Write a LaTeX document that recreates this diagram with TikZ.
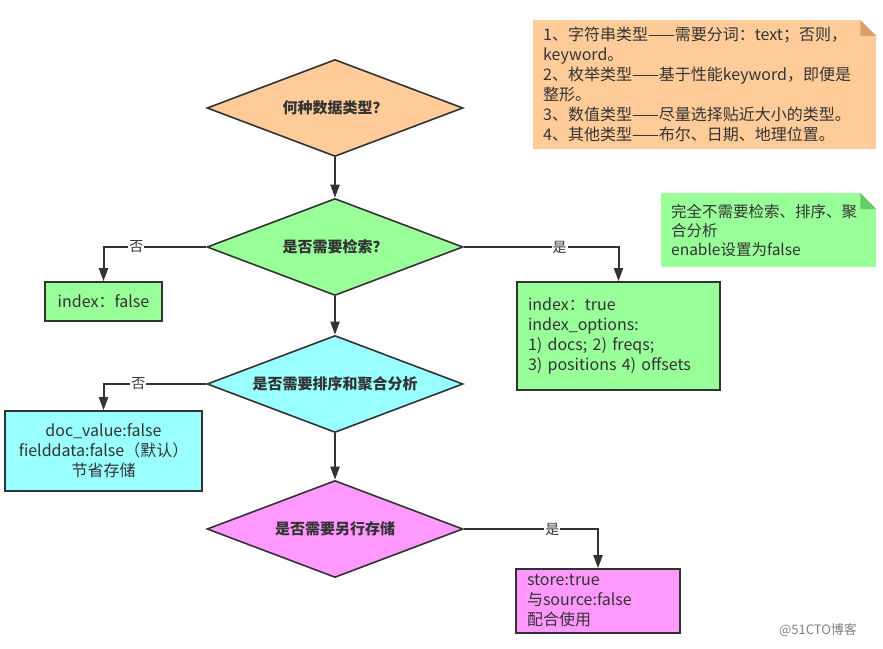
\documentclass[tikz,border=0pt]{standalone}
\usepackage{fontspec}
\setmainfont{Noto Sans CJK SC}
\usetikzlibrary{arrows.meta,shapes,positioning,calc}
\definecolor{lineGray}{HTML}{333333}
\definecolor{typeOrange}{HTML}{FFCC99}
\definecolor{foldOrange}{HTML}{D9A06B}
\definecolor{searchGreen}{HTML}{99FF99}
\definecolor{foldGreen}{HTML}{66CC66}
\definecolor{sortCyan}{HTML}{99FFFF}
\definecolor{storeMagenta}{HTML}{FF99FF}
\tikzset{
    flow/.style={-{Triangle[length=13pt, width=9pt]}, line width=2pt, lineGray},
    decision/.style={diamond, aspect=2.64, draw=lineGray, line width=1.6pt, text=lineGray, minimum width=256pt, minimum height=97pt, inner sep=0pt, font=\fontsize{15}{20}\selectfont\bfseries},
    result/.style={rectangle, draw=lineGray, line width=1.6pt, text=lineGray, inner xsep=11pt, font=\fontsize{16}{20}\selectfont},
    answer/.style={fill=white, text=lineGray, inner sep=1pt, font=\fontsize{14}{14}\selectfont},
    note/.style={rectangle, anchor=north west, inner xsep=10pt, text=lineGray, align=left, font=\fontsize{16}{20}\selectfont}
}
\begin{document}
\begin{tikzpicture}[x=1pt, y=-1pt]
    \useasboundingbox (0,0) rectangle (883,648);

    % Decisions
    \node[decision, fill=typeOrange] (type) at (335,108) {何种数据类型？};
    \node[decision, fill=searchGreen] (search) at (335,247) {是否需要检索？};
    \node[decision, fill=sortCyan] (sort) at (335,384) {是否需要排序和聚合分析};
    \node[decision, fill=storeMagenta] (store) at (335,529) {是否需要另行存储};

    % Results
    \node[result, fill=searchGreen, minimum width=117pt, minimum height=39pt] (noindex) at (103.5,301.5) {index：false};
    \node[result, fill=searchGreen, text width=181pt, minimum height=108pt, align=left] (index) at (618.5,336) {index：true\\index\_options:\\1) docs; 2) freqs;\\3) positions 4) offsets};
    \node[result, fill=sortCyan, minimum width=197pt, minimum height=80pt, align=center] (nodoc) at (103.5,451) {doc\_value:false\\fielddata:false（默认）\\节省存储};
    \node[result, fill=storeMagenta, text width=142pt, minimum height=64pt, align=left] (stored) at (598,601) {store:true\\与source:false\\配合使用};

    \draw[flow] (type) -- (search);
    \draw[flow] (search) -- (sort);
    \draw[flow] (sort) -- (store);
    \draw[flow] (search.west) -| node[answer, pos=0.34] {否} (noindex.north);
    \draw[flow] (search.east) -| node[answer, pos=0.31] {是} (index.north);
    \draw[flow] (sort.west) -| node[answer, pos=0.33] {否} (nodoc.north);
    \draw[flow] (store.east) -| node[answer, pos=0.33] {是} (stored.north);

    % Notes
    \node[note, fill=typeOrange, text width=323pt, minimum height=129pt] (types) at (533,20) {1、字符串类型——需要分词：text；否则，\\keyword。\\2、枚举类型——基于性能keyword，即便是\\整形。\\3、数值类型——尽量选择贴近大小的类型。\\4、其他类型——布尔、日期、地理位置。};
    \fill[white] ($(types.north east)+(-16,0)$) -- (types.north east) -- ($(types.north east)+(0,16)$) -- cycle;
    \fill[foldOrange] ($(types.north east)+(-16,0)$) -- ($(types.north east)+(-16,16)$) -- ($(types.north east)+(0,16)$) -- cycle;

    \node[note, fill=searchGreen, text width=195pt, minimum height=74pt, font=\fontsize{15.5}{19}\selectfont] (nouse) at (661,193) {完全不需要检索、排序、聚\\合分析\\enable设置为false};
    \fill[white] ($(nouse.north east)+(-16,0)$) -- (nouse.north east) -- ($(nouse.north east)+(0,16)$) -- cycle;
    \fill[foldGreen] ($(nouse.north east)+(-16,0)$) -- ($(nouse.north east)+(-16,16)$) -- ($(nouse.north east)+(0,16)$) -- cycle;

    \node[text=gray, font=\fontsize{13}{13}\selectfont] (mark) at (818,630) {@51CTO博客};
\end{tikzpicture}
\end{document}
